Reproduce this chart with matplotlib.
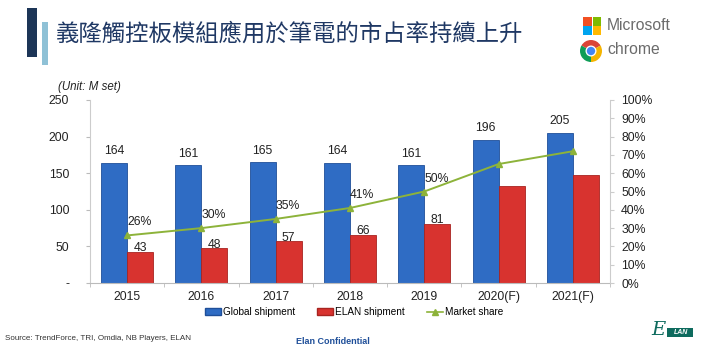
import matplotlib
matplotlib.use("Agg")
import matplotlib.pyplot as plt
from matplotlib.patches import Rectangle, Circle, Wedge
from matplotlib.lines import Line2D
import numpy as np

years = ["2015", "2016", "2017", "2018", "2019", "2020(F)", "2021(F)"]
global_shipment = [164, 161, 165, 164, 161, 196, 205]
elan_shipment = [43, 48, 57, 66, 81, 133, 148]
market_share = [26, 30, 35, 41, 50, 65, 72]
show_elan_label = [True, True, True, True, True, False, False]
show_share_label = [True, True, True, True, True, False, False]
left_ticks = [0, 50, 100, 150, 200, 250]
left_ticklabels = ["-", "50", "100", "150", "200", "250"]
right_ticks = list(range(0, 101, 10))

title = "義隆觸控板模組應用於筆電的市占率持續上升"

plt.rcParams['font.family'] = ['Liberation Sans', 'DejaVu Sans']

W, H = 702, 352
fig = plt.figure(figsize=(W / 100, H / 100), dpi=100)
fig.patch.set_facecolor("white")

ax = fig.add_axes([90 / W, 1 - 283 / H, 520 / W, 183 / H])
ax2 = ax.twinx()

x = np.arange(len(years))
bw = 0.35
blue = "#2f6cc4"
blue_edge = "#1f4f99"
red = "#d8332f"
red_edge = "#a82420"
green = "#8db33a"
txt = "#222222"
fs = 8.8

ax.bar(x - bw / 2, global_shipment, bw, color=blue, edgecolor=blue_edge, linewidth=0.6, zorder=2)
ax.bar(x + bw / 2, elan_shipment, bw, color=red, edgecolor=red_edge, linewidth=0.6, zorder=2)

for i in range(len(years)):
    ax.annotate(str(global_shipment[i]), (x[i] - bw / 2, global_shipment[i]),
                xytext=(0, 4), textcoords="offset points", ha="center", va="bottom",
                fontsize=fs, color=txt)
    if show_elan_label[i]:
        ax.annotate(str(elan_shipment[i]), (x[i] + bw / 2, elan_shipment[i]),
                    xytext=(0, -2), textcoords="offset points", ha="center", va="bottom",
                    fontsize=fs, color=txt, zorder=5)

ax.set_xlim(-0.5, len(years) - 0.5)
ax.set_ylim(0, 250)
ax.set_yticks(left_ticks)
ax.set_yticklabels(left_ticklabels)
ax.set_xticks(x)
ax.set_xticklabels(years)
ax.set_xticks(np.arange(-0.5, len(years), 1), minor=True)
ax.tick_params(axis="x", which="major", length=0, labelsize=fs, pad=6, labelcolor=txt)
ax.tick_params(axis="x", which="minor", length=3, color="#bbbbbb")
ax.tick_params(axis="y", length=3, color="#bbbbbb", labelsize=fs, labelcolor=txt, pad=12)
for s in ["top", "right"]:
    ax.spines[s].set_visible(False)
ax.spines["left"].set_color("#cccccc")
ax.spines["bottom"].set_color("#bbbbbb")

ax2.plot(x, market_share, color=green, linewidth=1.4, marker="^", markersize=4.5,
         markerfacecolor=green, markeredgecolor=green, zorder=4)
for i in range(len(years)):
    if show_share_label[i]:
        ax2.annotate(f"{market_share[i]}%", (x[i], market_share[i]),
                     xytext=(0, 5), textcoords="offset points", ha="left", va="bottom",
                     fontsize=fs, color=txt)
ax2.set_ylim(0, 100)
ax2.set_yticks(right_ticks)
ax2.set_yticklabels([f"{v}%" for v in right_ticks])
ax2.tick_params(axis="y", length=3, color="#cccccc", labelsize=fs, labelcolor=txt, pad=5)
for s in ["top", "left", "bottom"]:
    ax2.spines[s].set_visible(False)
ax2.spines["right"].set_color("#cccccc")
ax.set_zorder(1)
ax2.set_zorder(2)
ax2.patch.set_visible(False)

fig.text(58 / W, 1 - 87 / H, "(Unit: M set)", fontsize=8.3, style="italic",
         color=txt, ha="left", va="center")

# Legend
handles = [
    Rectangle((0, 0), 1, 1, facecolor=blue, edgecolor=blue_edge),
    Rectangle((0, 0), 1, 1, facecolor=red, edgecolor=red_edge),
    Line2D([0], [0], color=green, marker="^", markersize=4, linewidth=1.2),
]
fig.legend(handles, ["Global shipment", "ELAN shipment", "Market share"],
           loc="center", bbox_to_anchor=(354 / W, 1 - 312 / H), ncol=3, frameon=False,
           fontsize=7.2, handlelength=1.6, handleheight=0.6, handletextpad=0.2,
           columnspacing=2.2)

# Title decorations
fig.patches.append(Rectangle((27 / W, 1 - 57 / H), 10 / W, 49 / H, transform=fig.transFigure,
                             facecolor="#1c3557", edgecolor="none"))
fig.patches.append(Rectangle((42 / W, 1 - 65 / H), 6 / W, 43 / H, transform=fig.transFigure,
                             facecolor="#8fc1d6", edgecolor="none"))
fig.text(56 / W, 1 - 34 / H, title, fontsize=16.8, color="#1f3864", ha="left", va="center",
         family=["Noto Sans CJK TC", "DejaVu Sans"], fontweight="medium")

# Microsoft logo
ms_cols = [["#f25022", "#7fba00"], ["#00a4ef", "#ffb900"]]
sq = 8.5
x0, y0 = 583, 17
for r in range(2):
    for c in range(2):
        fig.patches.append(Rectangle(((x0 + c * (sq + 1)) / W, 1 - (y0 + (r + 1) * sq + r * 1) / H),
                                     sq / W, sq / H, transform=fig.transFigure,
                                     facecolor=ms_cols[r][c], edgecolor="none"))
fig.text(607 / W, 1 - 25 / H, "Microsoft", fontsize=11.3, color="#6b6b6b", ha="left", va="center")

# Chrome logo
ax_c = fig.add_axes([580 / W, 1 - 62 / H, 22 / W, 22 / H])
ax_c.set_xlim(-1, 1)
ax_c.set_ylim(-1, 1)
ax_c.set_aspect("equal")
ax_c.axis("off")
ax_c.add_patch(Wedge((0, 0), 1, 30, 150, facecolor="#db4437", edgecolor="none"))
ax_c.add_patch(Wedge((0, 0), 1, 150, 270, facecolor="#0f9d58", edgecolor="none"))
ax_c.add_patch(Wedge((0, 0), 1, 270, 390, facecolor="#f4b400", edgecolor="none"))
ax_c.add_patch(Circle((0, 0), 0.5, facecolor="white", edgecolor="none"))
ax_c.add_patch(Circle((0, 0), 0.38, facecolor="#4285f4", edgecolor="none"))
fig.text(607 / W, 1 - 50 / H, "chrome", fontsize=11.3, color="#6b6b6b", ha="left", va="center")

# Footer
fig.text(5 / W, 1 - 339 / H, "Source: TrendForce, TRI, Omdia, NB Players, ELAN", fontsize=5.8,
         color="#333333", ha="left", va="center")
fig.text(296 / W, 1 - 341 / H, "Elan Confidential", fontsize=6.5, color="#1f4f99",
         fontweight="bold", ha="left", va="center")
fig.patches.append(Rectangle((667 / W, 1 - 337 / H), 26 / W, 9 / H, transform=fig.transFigure,
                             facecolor="#0e6b5e", edgecolor="none"))
fig.text(681 / W, 1 - 332.5 / H, "LAN", fontsize=5, color="white", fontweight="bold",
         style="italic", ha="center", va="center")
fig.text(666 / W, 1 - 330 / H, "E", fontsize=14, color="#0e6b5e", style="italic",
         ha="right", va="center", family=["DejaVu Serif"])

fig.savefig("out.png", dpi=100, facecolor="white")
